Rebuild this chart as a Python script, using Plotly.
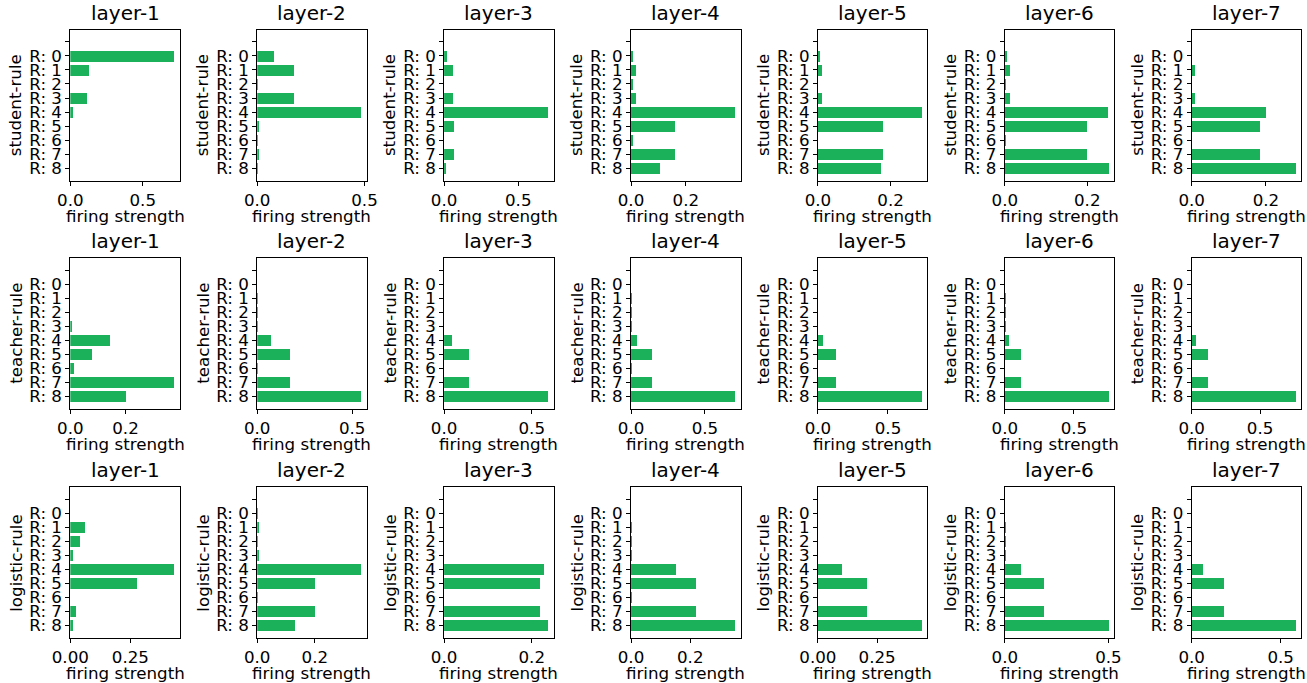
import plotly.graph_objects as go

# Rule firing strengths per layer (R: 0 .. R: 8) for each rule group
rule_labels = ["", "R: 0", "R: 1", "R: 2", "R: 3", "R: 4", "R: 5", "R: 6", "R: 7", "R: 8"]
layer_names = ["layer-1", "layer-2", "layer-3", "layer-4", "layer-5", "layer-6", "layer-7"]
group_names = ["student-rule", "teacher-rule", "logistic-rule"]

student_rule = [
    [0.720, 0.130, 0.000, 0.116, 0.024, 0.000, 0.000, 0.000, 0.000],
    [0.081, 0.174, 0.002, 0.174, 0.486, 0.009, 0.002, 0.009, 0.003],
    [0.020, 0.061, 0.000, 0.061, 0.703, 0.068, 0.000, 0.068, 0.013],
    [0.009, 0.020, 0.005, 0.020, 0.380, 0.162, 0.004, 0.162, 0.107],
    [0.005, 0.010, 0.000, 0.010, 0.287, 0.179, 0.000, 0.179, 0.173],
    [0.005, 0.011, 0.002, 0.011, 0.250, 0.199, 0.002, 0.199, 0.253],
    [0.000, 0.008, 0.000, 0.008, 0.200, 0.184, 0.000, 0.184, 0.281],
]
teacher_rule = [
    [0.000, 0.000, 0.000, 0.006, 0.145, 0.078, 0.016, 0.378, 0.203],
    [0.000, 0.003, 0.003, 0.003, 0.076, 0.176, 0.002, 0.176, 0.549],
    [0.000, 0.000, 0.000, 0.000, 0.046, 0.141, 0.000, 0.141, 0.595],
    [0.000, 0.003, 0.003, 0.002, 0.043, 0.144, 0.002, 0.144, 0.705],
    [0.000, 0.000, 0.000, 0.000, 0.034, 0.127, 0.000, 0.127, 0.744],
    [0.000, 0.003, 0.003, 0.002, 0.029, 0.118, 0.000, 0.118, 0.754],
    [0.000, 0.000, 0.000, 0.000, 0.029, 0.117, 0.000, 0.117, 0.763],
]
logistic_rule = [
    [0.000, 0.062, 0.041, 0.014, 0.434, 0.279, 0.000, 0.024, 0.014],
    [0.002, 0.007, 0.003, 0.007, 0.362, 0.201, 0.002, 0.201, 0.133],
    [0.000, 0.000, 0.000, 0.000, 0.229, 0.220, 0.000, 0.220, 0.238],
    [0.000, 0.003, 0.003, 0.002, 0.153, 0.219, 0.001, 0.219, 0.352],
    [0.000, 0.000, 0.000, 0.000, 0.103, 0.207, 0.000, 0.207, 0.440],
    [0.000, 0.002, 0.002, 0.001, 0.079, 0.189, 0.000, 0.189, 0.503],
    [0.000, 0.000, 0.000, 0.000, 0.059, 0.180, 0.000, 0.180, 0.586],
]

# x tick spacing used on each panel
student_dtick = [0.5, 0.5, 0.5, 0.2, 0.2, 0.2, 0.2]
teacher_dtick = [0.2, 0.5, 0.5, 0.5, 0.5, 0.5, 0.5]
logistic_dtick = [0.25, 0.2, 0.2, 0.2, 0.25, 0.5, 0.5]

groups = [student_rule, teacher_rule, logistic_rule]
dticks = [student_dtick, teacher_dtick, logistic_dtick]

W, H = 1307, 683
BAR = "#1bb05a"
FONT = "DejaVu Sans"

# panel geometry in pixels
col_left0, col_step, col_w = 70.3, 186.9, 109.5
row_tops, row_h = [29.5, 258.0, 487.0], 151.0

fig = go.Figure()
annotations = []
layout_axes = {}
n = 0
for r, group in enumerate(groups):
    for c, values in enumerate(group):
        n += 1
        xs = "" if n == 1 else str(n)
        left = col_left0 + c * col_step
        right = left + col_w
        top = row_tops[r]
        bottom = top + row_h
        vals = [0.0] + list(values)
        ypos = list(range(len(rule_labels)))
        fig.add_trace(go.Bar(
            x=vals, y=ypos, orientation="h", width=0.8,
            marker=dict(color=BAR, line=dict(width=0)),
            xaxis="x" + xs, yaxis="y" + xs, showlegend=False,
        ))
        step = dticks[r][c]
        fmt = ".2f" if step == 0.25 else ".1f"
        common = dict(
            showgrid=False, zeroline=False, showline=True, mirror=True,
            linecolor="black", linewidth=1, ticks="outside", ticklen=4,
            tickwidth=1, tickcolor="black", automargin=False,
            tickfont=dict(family=FONT, size=16.7, color="black"),
        )
        layout_axes["xaxis" + xs] = dict(
            domain=[left / W, right / W], anchor="y" + xs,
            range=[0, max(vals) * 1.05], tick0=0, dtick=step, tickformat=fmt,
            **common,
        )
        layout_axes["yaxis" + xs] = dict(
            domain=[1 - bottom / H, 1 - top / H], anchor="x" + xs,
            range=[len(rule_labels) - 1 + 0.89, -0.89],
            tickmode="array", tickvals=ypos, ticktext=rule_labels,
            **common,
        )
        cx = (left + right) / 2
        annotations.append(dict(
            text=layer_names[c], x=cx / W, y=1 - (top - 3) / H,
            xref="paper", yref="paper", xanchor="center", yanchor="bottom",
            showarrow=False, font=dict(family=FONT, size=20, color="black"),
        ))
        annotations.append(dict(
            text="firing strength", x=cx / W, y=1 - (bottom + 35) / H,
            xref="paper", yref="paper", xanchor="center", yanchor="middle",
            showarrow=False, font=dict(family=FONT, size=16.7, color="black"),
        ))
        annotations.append(dict(
            text=group_names[r], x=(left - 55) / W, y=1 - (top + bottom) / 2 / H,
            xref="paper", yref="paper", xanchor="center", yanchor="middle",
            textangle=-90, showarrow=False,
            font=dict(family=FONT, size=16.7, color="black"),
        ))

fig.update_layout(
    template="none",
    width=W, height=H, margin=dict(l=0, r=0, t=0, b=0, pad=0),
    paper_bgcolor="white", plot_bgcolor="white",
    annotations=annotations, bargap=0, **layout_axes,
)
fig.write_html("out.html")
